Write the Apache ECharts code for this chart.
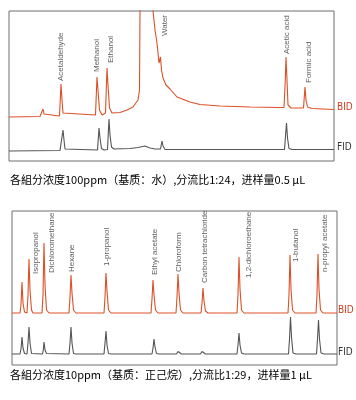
<!DOCTYPE html>
<html><head><meta charset="utf-8">
<script src="https://cdn.jsdelivr.net/npm/echarts@6/dist/echarts.min.js"></script>
<style>html,body{margin:0;padding:0;background:#fff}#c{width:356px;height:400px}</style>
</head><body><div id="c"></div><script>
// Top panel (matrix: water) – retention position vs. signal
const bidTop = [[0,44],[31,44.5],[32.5,45],[34,52],[35,47],[36.5,45],[50.5,45],[52,77],[53,61],[54,48],[56,46],[86.5,46],[88,84],[89,71],[90.5,51],[93,46],[96.5,48],[98,93],[99,76],[100.5,53],[103,48],[111,48.5],[118,51],[124,54],[129,61],[130.5,71],[131,150],[131.3,170],[143,170],[144,150],[146,131],[148,118],[150,98],[151.5,104],[152.5,91],[154,83],[157,76],[161,72],[168,64],[181,59],[191,56.5],[211,55],[241,54],[271,53.5],[275,53.5],[276.3,81],[277,104],[278,81],[279,56],[282,53],[294.5,53],[296,74],[297,61],[298.5,54],[303,52.5],[325,51.5]];
const fidTop = [[0,10],[51,10.5],[52.5,11],[54,31],[55,21],[56,12],[58,11],[88.5,11],[90,33],[91,23],[92.5,12.5],[95,11],[98.5,11.5],[100,42],[101,26],[102.5,14],[105,12],[121,12.5],[129,13.5],[136,15],[141,13],[146,12],[151.5,12],[153,20],[154,15],[156,11.5],[275.5,11.5],[277.5,38],[278.5,23],[280,12.5],[283,11.5],[325,11.5]];
const labelsTop = [["Acetaldehyde",52,80],["Methanol",88,89],["Ethanol",102,98],["Water",155.5,125],["Acetic acid",277.5,107],["Formic acid",299.5,78]];
// Bottom panel (matrix: n-hexane)
const bidBottom = [[0,52],[8,52],[9,60],[10,83],[11,62],[12.5,53],[15,52],[16,70],[17,106],[18,75],[19.5,55],[21,52],[30,52],[31,70],[32,122],[33,80],[34.5,55],[37,52],[57,52],[58,68],[59,90],[60,72],[61.5,55],[64,52],[92,52],[93,68],[94,92],[95,74],[96.5,55],[99,52],[139,52],[140,66],[141,85],[142,70],[143.5,55],[146,52],[164,52],[165,68],[166,91],[167,72],[168.5,55],[171,52],[189,52],[190,62],[191,77],[192,64],[193.5,54],[196,52],[225,52],[226,70],[227,108],[228,76],[229.5,55],[232,52],[276,52],[277,70],[278,110],[279,76],[280.5,55],[283,52],[304,52],[305,70],[306,111],[307,76],[308.5,55],[311,52],[325,52]];
const fidBottom = [[0,11],[8,11],[9,16],[10,28],[11,17],[12.5,11.5],[15,11],[16,22],[17,38],[18,22],[19.5,11.5],[21,11],[30.5,11],[31.3,15],[32,23],[33,15],[34.5,11.5],[57,11],[58,22],[59,38],[60,22],[61.5,11.5],[64,11],[92,11],[93,22],[94,34],[95,20],[96.5,11.5],[99,11],[140,11],[141,17],[142,26],[143,18],[144.5,11.5],[147,11],[164.5,11],[166,13.5],[167,15],[168,13.5],[169.5,11],[188.5,11],[190,13.5],[191,15],[192,13.5],[193.5,11],[225,11],[226,20],[227,32],[228,20],[229.5,12],[232,11],[276.5,11],[277.5,26],[278.5,48],[279.5,28],[281,12],[284,11],[304.5,11],[305.5,26],[306.5,45],[307.5,26],[309,12],[312,11],[325,11]];
const labelsBottom = [["Isopropanol",24,91],["Dichloromethane",40,92],["Hexane",60,93],["1-propanol",94.5,99],["Ethyl acetate",142.5,90],["Chloroform",167,93],["Carbon tetrachloride",193,82],["1,2-dichloroethane",236.5,87],["1-butanol",283.5,103],["n-propyl acetate",313,93]];
const detectorNames = ["BID","FID"];
const captionTop = "各組分浓度100ppm（基质：水）,分流比1:24，进样量0.5 μL";
const captionBottom = "各組分浓度10ppm（基质：正己烷）,分流比1:29，进样量1 μL";

const BIDC = '#dc5026', FIDC = '#555555';
const lf = '"Liberation Sans", Arial, sans-serif';
function trace(data, gi, color, name, dist, off, lc) {
  return {type:'line', xAxisIndex:gi, yAxisIndex:gi, data, showSymbol:false, symbol:'none', silent:true,
    lineStyle:{color, width:1.1}, clip:true, animation:false,
    endLabel:{show:true, formatter:name, color:lc, fontSize:10, distance:dist, offset:off,
      fontFamily:'"Liberation Sans Narrow", "DejaVu Sans Condensed", sans-serif'}};
}
function labels(list, gi) {
  return {type:'scatter', xAxisIndex:gi, yAxisIndex:gi, symbolSize:0, silent:true, animation:false,
    data: list.map(l => ({name:l[0], value:[l[1], l[2]]})),
    label:{show:true, formatter:p=>p.name, rotate:90, position:'inside', align:'left', verticalAlign:'middle',
      fontSize:8, color:'#333', fontFamily:lf}};
}
const chart = echarts.init(document.getElementById('c'), null, {renderer:'canvas'});
chart.setOption({
  animation:false,
  backgroundColor:'#fff',
  grid:[
    {left:9, top:11, width:325, height:150, show:true, borderColor:'#6e6e6e', borderWidth:1, backgroundColor:'transparent'},
    {left:12, top:211, width:325, height:154, show:true, borderColor:'#6e6e6e', borderWidth:1, backgroundColor:'transparent'}
  ],
  xAxis:[{type:'value', gridIndex:0, min:0, max:325, show:false},{type:'value', gridIndex:1, min:0, max:325, show:false}],
  yAxis:[{type:'value', gridIndex:0, min:0, max:150, show:false},{type:'value', gridIndex:1, min:0, max:154, show:false}],
  title:[
    {text:captionTop, left:10, top:174, textStyle:{fontFamily:'"Noto Sans CJK SC", sans-serif', fontSize:11, fontWeight:'normal', color:'#000'}, padding:0},
    {text:captionBottom, left:10, top:369, textStyle:{fontFamily:'"Noto Sans CJK SC", sans-serif', fontSize:11, fontWeight:'normal', color:'#000'}, padding:0}
  ],
  series:[
    trace(bidTop, 0, BIDC, detectorNames[0], 3, [0,-2], '#d23a1e'),
    trace(fidTop, 0, FIDC, detectorNames[1], 3, [0,-2], '#333'),
    trace(bidBottom, 1, BIDC, detectorNames[0], 1, [0,-3], '#d23a1e'),
    trace(fidBottom, 1, FIDC, detectorNames[1], 1, [0,-2], '#333'),
    labels(labelsTop, 0),
    labels(labelsBottom, 1)
  ]
});
</script></body></html>
